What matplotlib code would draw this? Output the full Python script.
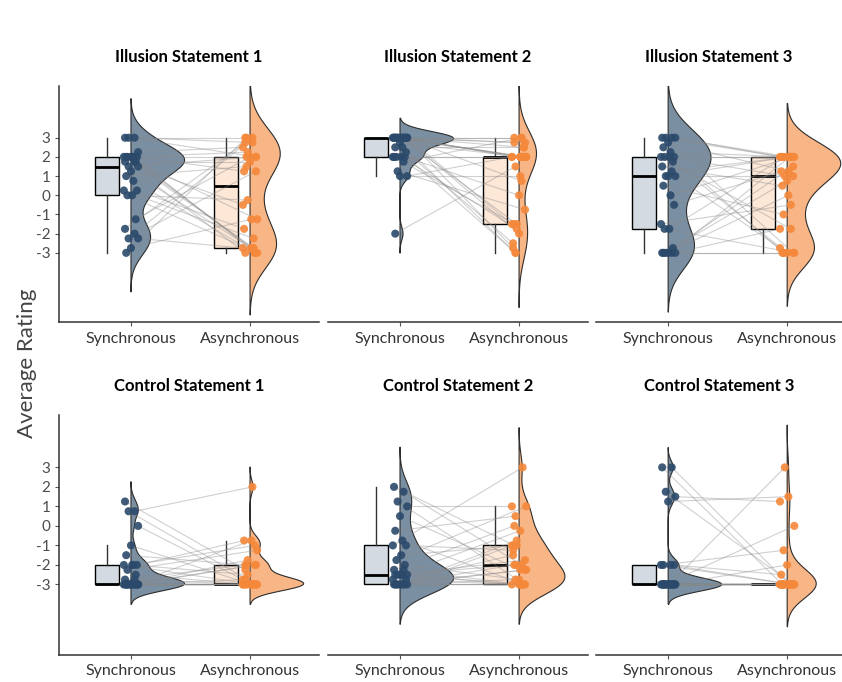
import matplotlib
matplotlib.use("Agg")
import matplotlib.pyplot as plt
import numpy as np

plt.rcParams["font.family"] = ["Lato", "DejaVu Sans"]
plt.rcParams["axes.unicode_minus"] = False

# -----------------------------------------------------------
# DATA (one value per participant, same order in both lists)
# -----------------------------------------------------------
titles = ["Illusion Statement 1", "Illusion Statement 2", "Illusion Statement 3",
          "Control Statement 1", "Control Statement 2", "Control Statement 3"]
conditions = ["Synchronous", "Asynchronous"]
y_ticks = [-3, -2, -1, 0, 1, 2, 3]

ill1_sync = [3, 3, 3, 2.25, 2, 2, 2, 2, 2, 2, 2, 1.75, 1.75, 1.75, 1.5,
             1.5, 1.25, 1, 0.75, 0.25, 0.25, 0, 0, -1.25, -1.75, -2, -2.25, -2.25, -2.75, -3]
ill1_async = [3, 2.75, 2, 2.5, -2.75, 2, -3, 1.25, -2.75, 2.25, -1.25, 1.75, -3, -2.75, 2,
              -0.5, -2.75, 1.5, -3, -1.75, -2.25, -0.25, -3, 2, 2.75, 3, 1.25, -2.75, -1.25, 3]

ill2_sync = [3, 3, 3, 3, 3, 3, 3, 3, 3, 3, 3, 3, 3, 3, 3,
             3, 2.75, 2.5, 2.5, 2.25, 2, 2, 2, 2, 2, 1.75, 1.25, 1, 1, -2]
ill2_async = [3, 3, 2.75, 2, 2, -3, 2.5, -2.75, 2, -1.5, 2, -2, 2.75, 0.75, 2,
              -1.5, 2, -3, 2.5, -2.5, 2, -1.75, 2, 0, -1.5, 3, -0.75, 2, 1, 1.5]

ill3_sync = [3, 3, 3, 3, 2.75, 2.5, 2.25, 2, 2, 2, 2, 1.75, 1.5, 1.25, 1,
             1, 1, 0.5, 0, -0.5, -1.5, -1.75, -1.75, -2.75, -3, -3, -3, -3, -3, -3]
ill3_async = [2, 2, -3, 2, 1.25, -3, 2, 2, -1.75, 1, 2, -3, 0.5, 2, 1,
              -2.75, 2, -1, 2, 1.25, -0.5, 2, -3, 0.75, -3, 2, 1.5, -1.75, 0, -3]

con1_sync = [1.25, 0.75, 0.75, 0, -1, -1.5, -2, -2, -2, -2, -2.25, -2.5, -2.75, -2.75, -3,
             -3, -3, -3, -3, -3, -3, -3, -3, -3, -3, -3, -3, -3, -3, -3]
con1_async = [-2.25, 2, -3, -2.75, -3, -2, -1, -0.75, -3, -2.5, -1.25, -3, -2, -3, -3,
              -3, -0.75, -3, -2, -3, -3, -1.75, -3, -3, -2.75, -3, -2, -3, -3, -3]

con2_sync = [2, 1.75, 1.25, 1, 0.5, -0.25, -0.75, -1, -1, -1.5, -1.75, -2, -2.25, -2.25, -2.5,
             -2.5, -2.5, -2.5, -2.5, -2.75, -2.75, -3, -3, -3, -3, -3, -3, -3, -3, -3]
con2_async = [-1, -2, -3, 1, -2.25, 0.5, -3, -1.25, 3, -1, 1, -2.75, 0, -3, -1.75,
              -3, -0.25, -2, -3, -1.5, -3, -0.75, -2.25, -3, -2, -3, -2.25, -1, -3, -2.75]

con3_sync = [3, 3, 1.75, 1.5, 1.25, -2, -2, -2, -2, -3, -3, -3, -3, -3, -3,
             -3, -3, -3, -3, -3, -3, -3, -3, -3, -3, -3, -3, -3, -3, -3]
con3_async = [-3, -3, -3, 1.25, 1.5, -1.25, -3, -2.5, -3, 3, 0, -2, -3, -3, -3,
              -3, -3, -3, -3, -3, -3, -3, -3, -3, -3, -3, -3, -3, -3, -3]

panels = [(ill1_sync, ill1_async), (ill2_sync, ill2_async), (ill3_sync, ill3_async),
          (con1_sync, con1_async), (con2_sync, con2_async), (con3_sync, con3_async)]

SYNC_COL = "#2b4a6b"
ASYNC_COL = "#f5883a"
JITTER = [-0.05, 0.03, -0.02, 0.06, 0.0, -0.04, 0.02, 0.05, -0.06, 0.01, -0.03, 0.04]


# -----------------------------------------------------------
# HELPERS
# -----------------------------------------------------------

def bw_nrd0(x):
    # same rule of thumb as R's density() default
    hi = np.std(x, ddof=1)
    q75, q25 = np.percentile(x, [75, 25])
    lo = min(hi, (q75 - q25) / 1.34)
    if lo == 0:
        lo = hi
    return 0.9 * lo * len(x) ** -0.2


def kde(x, n=512):
    x = np.asarray(x, float)
    bw = bw_nrd0(x)
    grid = np.linspace(x.min() - 3 * bw, x.max() + 3 * bw, n)
    dens = np.exp(-0.5 * ((grid[:, None] - x[None, :]) / bw) ** 2).sum(1)
    dens /= len(x) * bw * np.sqrt(2 * np.pi)
    return grid, dens


def rgba(hex_col, a):
    c = matplotlib.colors.to_rgb(hex_col)
    return (c[0], c[1], c[2], a)


def raincloud(ax, sync, asyn):
    sync = np.asarray(sync, float)
    asyn = np.asarray(asyn, float)
    js = np.resize(JITTER, len(sync))
    ja = np.resize(JITTER[5:] + JITTER[:5], len(asyn))

    curves = [kde(sync), kde(asyn)]
    dmax = max(c[1].max() for c in curves)

    for pos, vals, col, (grid, dens) in zip([1, 2], [sync, asyn], [SYNC_COL, ASYNC_COL], curves):
        # half violin on the right
        w = dens / dmax * 0.45
        xs = np.r_[pos, pos + w, pos]
        ys = np.r_[grid[0], grid, grid[-1]]
        ax.fill(xs, ys, facecolor=rgba(col, 0.62), edgecolor="#2d2d2d", lw=0.8, zorder=1)

        # box to the left
        ax.boxplot([vals], positions=[pos - 0.2], widths=0.2, whis=1.5,
                   showfliers=False, showcaps=False, patch_artist=True, manage_ticks=False,
                   boxprops=dict(facecolor=rgba(col, 0.2), edgecolor="black", lw=1),
                   medianprops=dict(color="black", lw=2),
                   whiskerprops=dict(color="#333333", lw=1), zorder=2)

    for i in range(len(sync)):
        ax.plot([1 + js[i], 2 + ja[i]], [sync[i], asyn[i]], color="#8a8a8a",
                alpha=0.4, lw=0.8, zorder=3)

    ax.scatter(1 + js, sync, s=34, color=SYNC_COL, alpha=0.9, edgecolor="none", zorder=4)
    ax.scatter(2 + ja, asyn, s=34, color=ASYNC_COL, alpha=0.9, edgecolor="none", zorder=4)


# -----------------------------------------------------------
# FIGURE
# -----------------------------------------------------------

fig = plt.figure(figsize=(8.42, 6.82), dpi=100)

rows = [(0.528, 0.346), (0.040, 0.352)]
cols = [(0.070, 0.309, 2.58), (0.3895, 0.309, 2.58), (0.708, 0.2922, 2.462)]

for k, (sync, asyn) in enumerate(panels):
    r, c = divmod(k, 3)
    bottom, height = rows[r]
    left, width, xr = cols[c]
    ax = fig.add_axes([left, bottom, width, height])
    raincloud(ax, sync, asyn)

    ax.set_xlim(0.395, xr)
    ax.set_ylim(-6.6, 5.7)
    ax.set_title(titles[k], fontsize=12, fontweight="bold", pad=17)

    for side in ["top", "right"]:
        ax.spines[side].set_visible(False)
    ax.spines["bottom"].set_color("#333333")
    ax.spines["bottom"].set_linewidth(1.1)

    ax.set_xticks([1, 2])
    ax.set_xticklabels(conditions, fontsize=11.5, color="#333333")
    ax.tick_params(axis="x", length=3, color="#555555", pad=4)

    if c == 0:
        ax.spines["left"].set_color("#333333")
        ax.spines["left"].set_linewidth(1.1)
        ax.set_yticks(y_ticks)
        ax.set_yticklabels([str(t) for t in y_ticks], fontsize=11, color="#4d4d4d")
        ax.tick_params(axis="y", length=3, color="#555555", pad=3)
    else:
        ax.spines["left"].set_visible(False)
        ax.set_yticks([])

fig.text(0.032, 0.468, "Average Rating", rotation=90, ha="center", va="center",
         fontsize=16, color="#444444")

fig.savefig("out.png", dpi=100)
